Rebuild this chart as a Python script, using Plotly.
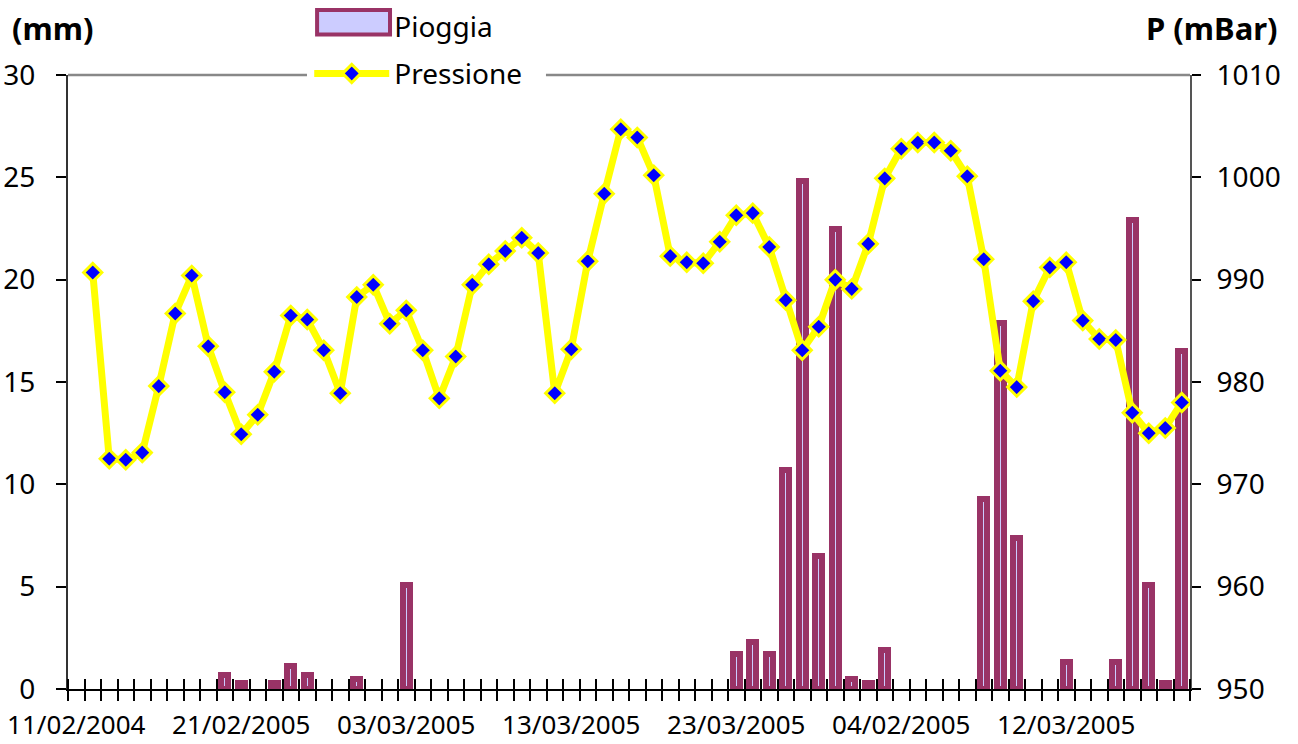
import plotly.graph_objects as go

# ---------------- data ----------------
x_index = list(range(68))

rain_mm = [
    None, None, None, None, None, None, None, None, None, 0.7,
    0.3, None, 0.3, 1.1, 0.7, None, None, 0.5, None, None,
    5.1, None, None, None, None, None, None, None, None, None,
    None, None, None, None, None, None, None, None, None, None,
    1.7, 2.3, 1.7, 10.7, 24.8, 6.5, 22.5, 0.5, 0.3, 1.9,
    None, None, None, None, None, 9.3, 17.9, 7.4, None, None,
    1.3, None, None, 1.3, 22.9, 5.1, 0.3, 16.5,
]

pressure_mbar = [
    None, 990.7, 972.5, 972.4, 973.1, 979.6, 986.7, 990.4, 983.5, 979.0,
    974.9, 976.8, 981.0, 986.5, 986.1, 983.1, 978.9, 988.3, 989.5, 985.7,
    987.0, 983.1, 978.4, 982.5, 989.5, 991.5, 992.8, 994.1, 992.6, 978.9,
    983.2, 991.8, 998.4, 1004.7, 1003.9, 1000.2, 992.3, 991.7, 991.6, 993.7,
    996.3, 996.5, 993.2, 988.0, 983.1, 985.4, 990.0, 989.1, 993.5, 999.9,
    1002.8, 1003.4, 1003.4, 1002.6, 1000.1, 992.0, 981.1, 979.5, 987.9, 991.2,
    991.7, 986.0, 984.2, 984.1, 977.0, 975.0, 975.5, 978.0,
]

tick_index = [0, 10, 20, 30, 40, 50, 60]
tick_dates = ["11/02/2004", "21/02/2005", "03/03/2005", "13/03/2005",
              "23/03/2005", "04/02/2005", "12/03/2005"]

# ---------------- figure ----------------
FONT = "Noto Sans"
XR = [-0.5, 67.5]
RAIN_LINE = "#993366"
RAIN_FILL = "#ccccff"

fig = go.Figure()
fig.add_trace(go.Bar(
    x=x_index, y=rain_mm, name="Pioggia",
    width=0.40, showlegend=False,
    marker=dict(color=RAIN_FILL, line=dict(color=RAIN_LINE, width=6)),
    xaxis="x", yaxis="y",
))
# legend entry for the rain series (swatch drawn as a rectangle shape below)
fig.add_trace(go.Scatter(
    x=[None], y=[None], name="Pioggia", mode="lines",
    line=dict(color="rgba(0,0,0,0)", width=0),
    legendgroup="g1", legendrank=1,
    xaxis="x", yaxis="y", hoverinfo="skip",
))
fig.add_trace(go.Scatter(
    x=x_index, y=pressure_mbar, name="Pressione",
    mode="lines+markers",
    line=dict(color="#ffff00", width=7),
    marker=dict(symbol="diamond", size=14, color="#0000ff",
                line=dict(color="#ffff00", width=3)),
    legendgroup="g2", legendrank=2,
    xaxis="x2", yaxis="y2",
))

minor_out = dict(tickmode="linear", tick0=-0.5, dtick=1, ticks="outside",
                 ticklen=10, tickwidth=1.5, tickcolor="#000000", showgrid=False)
minor_in = dict(tickmode="linear", tick0=-0.5, dtick=1, ticks="inside",
                ticklen=10, tickwidth=1.5, tickcolor="#000000", showgrid=False)

fig.update_layout(
    width=1298, height=744,
    margin=dict(l=68, r=108, t=75, b=55, autoexpand=False),
    plot_bgcolor="white", paper_bgcolor="white",
    font=dict(family=FONT, color="black"),
    bargap=0,
    showlegend=True,
    legend=dict(
        x=0.215, y=1.12, xanchor="left", yanchor="top",
        bgcolor="rgba(0,0,0,0)", borderwidth=0,
        font=dict(family=FONT, size=28, color="black"),
        itemwidth=75, tracegroupgap=8,
        traceorder="grouped",
    ),
    xaxis=dict(
        range=XR, tickmode="array", tickvals=tick_index, ticktext=tick_dates,
        ticks="", showgrid=False, zeroline=False,
        showline=True, linecolor="#000000", linewidth=2,
        tickfont=dict(family=FONT, size=26, color="black"),
        ticklabelstandoff=12,
        minor=minor_out,
    ),
    xaxis2=dict(
        range=XR, overlaying="x", anchor="y", side="bottom",
        tickmode="array", tickvals=[], showticklabels=False,
        ticks="", showgrid=False, zeroline=False, showline=False,
        minor=minor_in,
    ),
    yaxis=dict(
        range=[0, 30], tickmode="linear", tick0=0, dtick=5,
        ticks="outside", ticklen=10, tickwidth=1.5, tickcolor="#000000",
        showgrid=False, zeroline=False,
        showline=True, linecolor="#333333", linewidth=2,
        tickfont=dict(family=FONT, size=28, color="black"),
        ticklabelstandoff=15,
    ),
    yaxis2=dict(
        range=[950, 1010], tickmode="linear", tick0=950, dtick=10,
        overlaying="y", side="right", anchor="x",
        ticks="outside", ticklen=9, tickwidth=1.5, tickcolor="#000000",
        showgrid=False, zeroline=False,
        showline=True, linecolor="#555555", linewidth=2,
        tickfont=dict(family=FONT, size=28, color="black"),
        ticklabelstandoff=10,
    ),
    yaxis3=dict(
        range=[0, 30], overlaying="y", side="left", anchor="x",
        tickmode="linear", tick0=0, dtick=5, ticks="inside", ticklen=10,
        tickwidth=1.5, tickcolor="#000000", showticklabels=False,
        showgrid=False, zeroline=False, showline=False,
    ),
    yaxis4=dict(
        range=[950, 1010], overlaying="y", side="right", anchor="x",
        tickmode="linear", tick0=950, dtick=10, ticks="inside", ticklen=10,
        tickwidth=1.5, tickcolor="#000000", showticklabels=False,
        showgrid=False, zeroline=False, showline=False,
    ),
    shapes=[
        # top frame, interrupted behind the legend
        dict(type="line", xref="paper", yref="paper", x0=0, x1=0.213, y0=1, y1=1,
             line=dict(color="#888888", width=2.5), layer="below"),
        dict(type="line", xref="paper", yref="paper", x0=0.426, x1=1, y0=1, y1=1,
             line=dict(color="#888888", width=2.5), layer="below"),
        # legend swatch for Pioggia
        dict(type="rect", xref="paper", yref="paper",
             x0=0.222, x1=0.287, y0=1.066, y1=1.106,
             fillcolor=RAIN_FILL, line=dict(color=RAIN_LINE, width=4), layer="above"),
    ],
    annotations=[
        dict(text="<b>(mm)</b>", xref="paper", yref="paper", x=-0.052, y=1.077,
             xanchor="left", yanchor="middle", showarrow=False,
             font=dict(family=FONT, size=31, color="black")),
        dict(text="<b>P (mBar)</b>", xref="paper", yref="paper", x=1.08, y=1.077,
             xanchor="right", yanchor="middle", showarrow=False,
             font=dict(family=FONT, size=31, color="black")),
    ],
)

fig.write_html("out.html",
               config={"displayModeBar": False},
               post_script="document.body.style.margin='0px';document.body.style.padding='0px';")
